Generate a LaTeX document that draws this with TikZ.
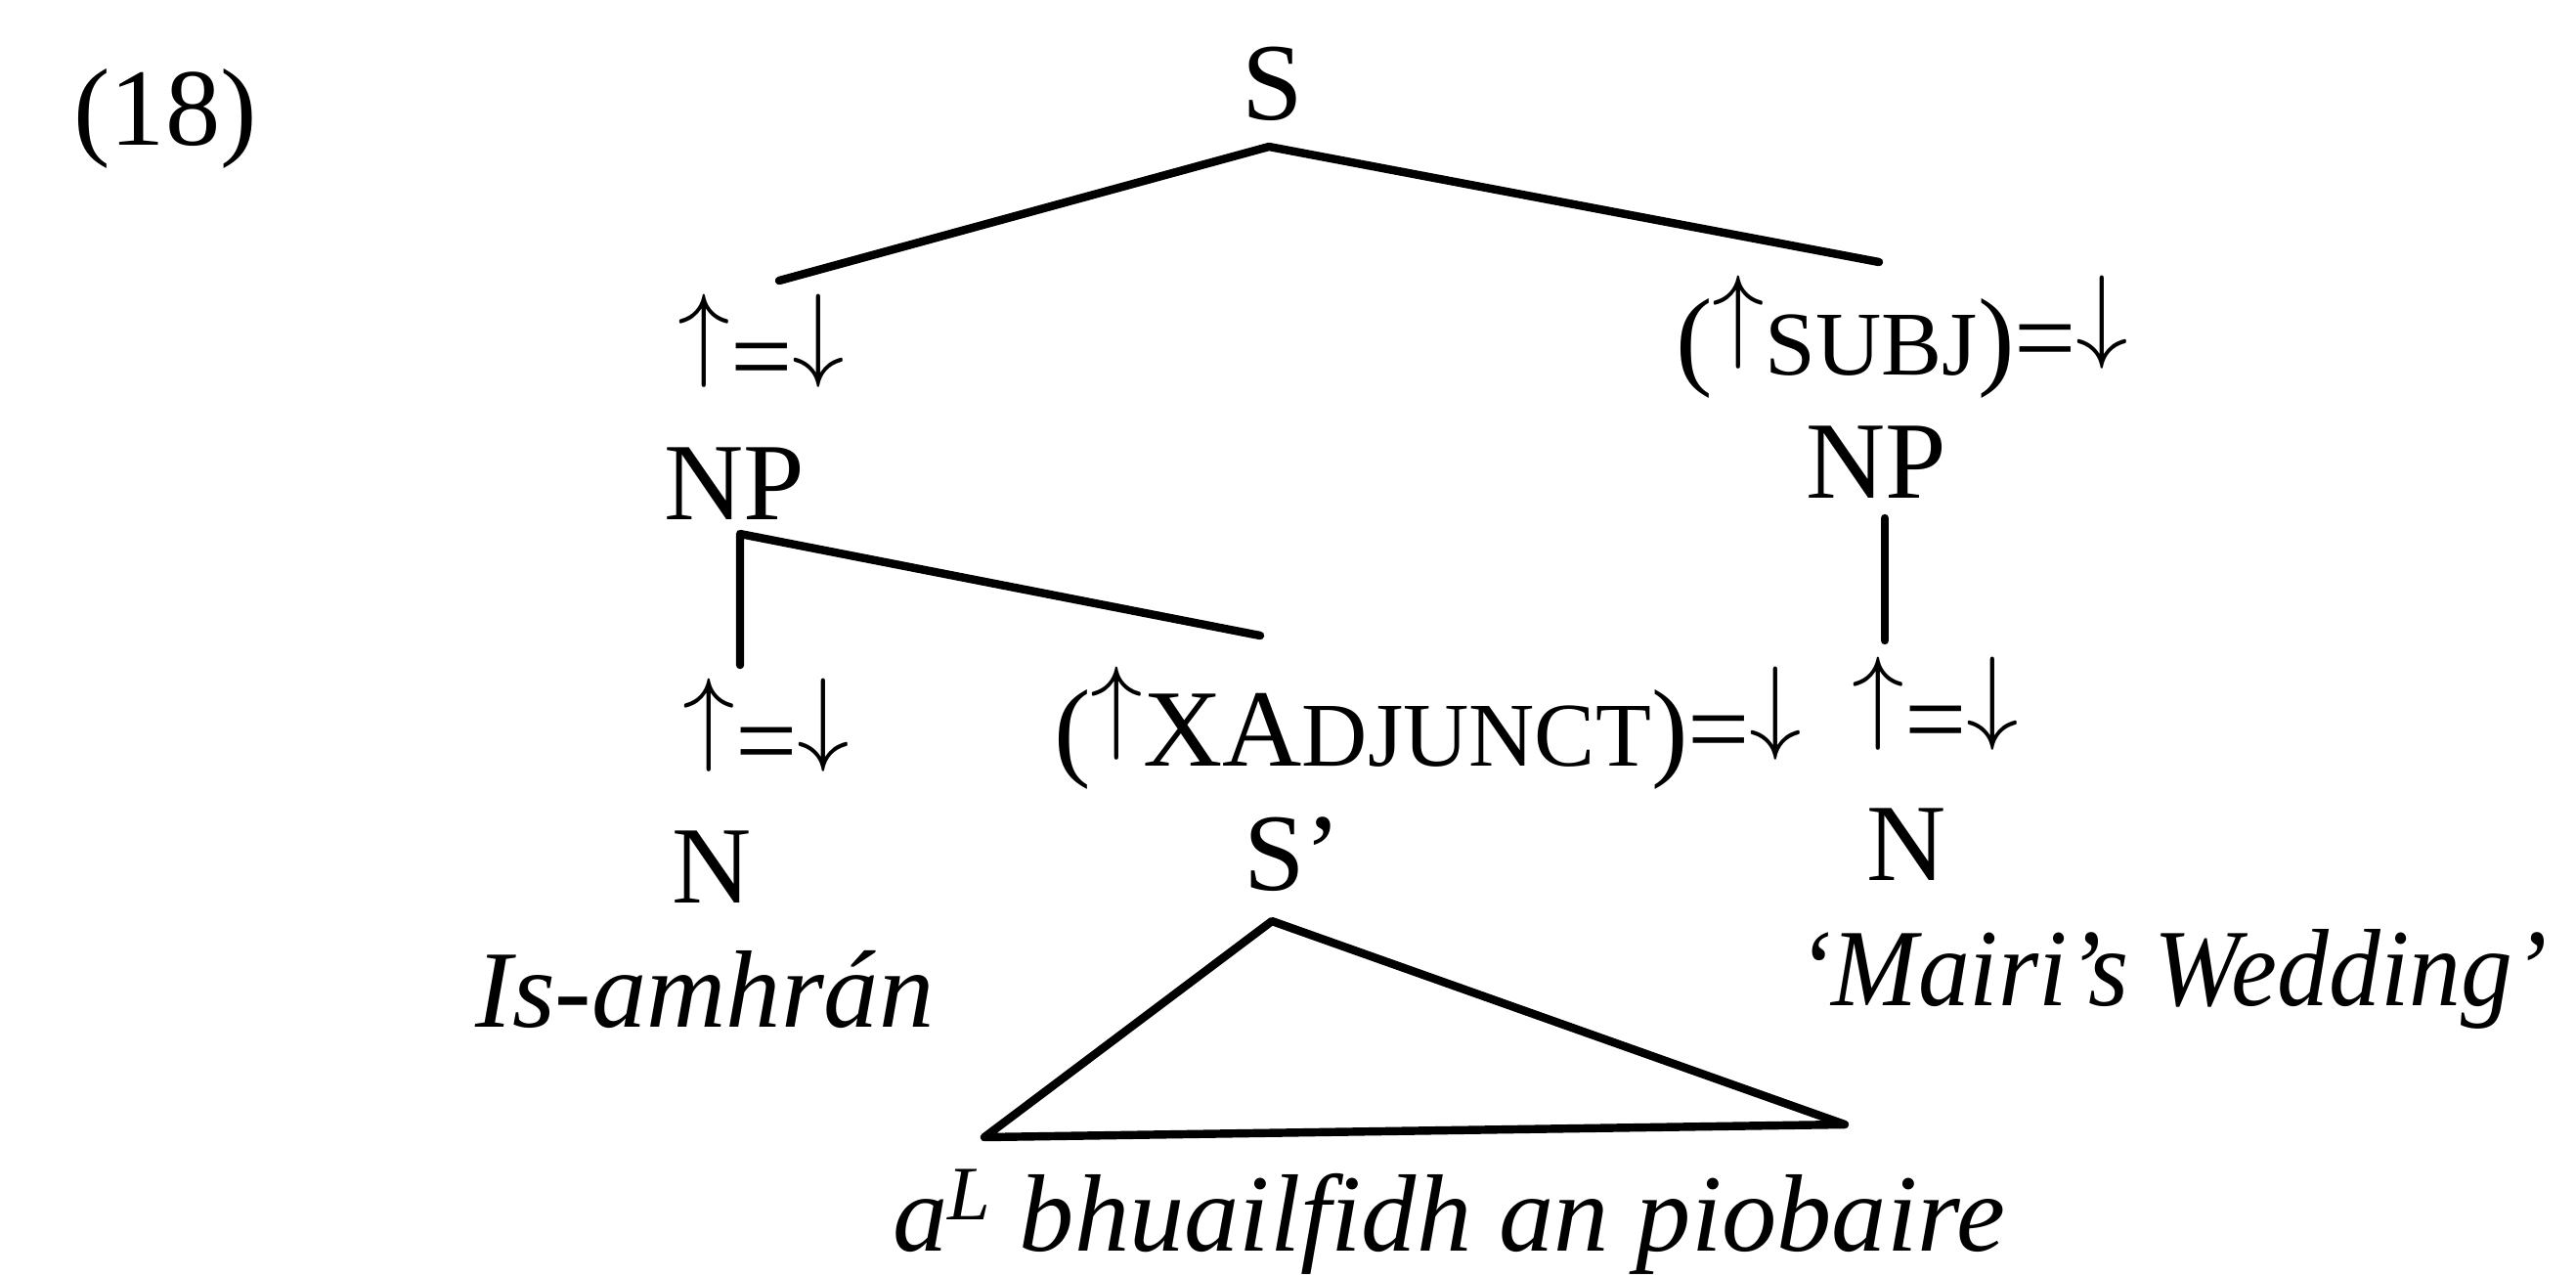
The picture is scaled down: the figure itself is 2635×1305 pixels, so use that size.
\documentclass[tikz,border=0pt]{standalone}
\usepackage{fontspec}
\setmainfont{Liberation Serif}
\usepackage{graphicx}
\newcommand\myup{\resizebox*{!}{0.9em}{\raisebox{0.194em}{$\uparrow$}}}
\newcommand\mydown{\resizebox*{!}{0.9em}{\raisebox{0.194em}{$\downarrow$}}}
\newcommand\mysc[1]{{\fontsize{26.5pt}{30pt}\selectfont #1}}
\begin{document}
\begin{tikzpicture}[x=0.1mm, y=-0.1mm,
  font=\fontsize{32pt}{38pt}\selectfont,
  lbl/.style={inner sep=0pt, outer sep=0pt, anchor=base},
  edge/.style={line width=2.4pt, line cap=round, line join=round}]
\useasboundingbox (0,0) rectangle (2635,1305);
% labels
\node[lbl] (ex)  at (169,148)  {(18)};
\node[lbl] (s)   at (1302,122) {S};
\node[lbl] (a1)  at (779,402)  {\myup=\mydown};
\node[lbl] (a2)  at (1946,383) {(\myup\mysc{SUBJ})=\mydown};
\node[lbl] (np1) at (751,531)  {NP};
\node[lbl] (np2) at (1919,509) {NP};
\node[lbl] (b1)  at (784,795)  {\myup=\mydown};
\node[lbl] (b2)  at (1461,783) {(\myup XA\mysc{DJUNCT})=\mydown};
\node[lbl] (b3)  at (1980,773) {\myup=\mydown};
\node[lbl] (n1)  at (728,923)  {N};
\node[lbl] (sp)  at (1322,910) {S’};
\node[lbl] (n2)  at (1950,900) {N};
\node[lbl] (w1)  at (721,1050) {\itshape Is-amhrán};
\node[lbl] (w2)  at (2222,1028) {\scalebox{0.94}[1]{\itshape ‘Mairi’s Wedding’}};
\node[lbl] (w3)  at (1482,1279) {\itshape a\textsuperscript{L} bhuailfidh an piobaire};
% connector end points
\coordinate (sApex) at (1298,150);
\coordinate (sL) at (797,287);
\coordinate (sR) at (1922,268);
\coordinate (np1Top) at (757,546);
\coordinate (np1V) at (757,680);
\coordinate (np1D) at (1289,650);
\coordinate (np2Top) at (1928,530);
\coordinate (np2V) at (1928,655);
\coordinate (triTop) at (1301,942);
\coordinate (triL) at (1007,1163);
\coordinate (triR) at (1887,1150);
% connectors
\draw[edge] (sL) -- (sApex) -- (sR);
\draw[edge] (np1V) -- (np1Top) -- (np1D);
\draw[edge] (np2Top) -- (np2V);
\draw[edge] (triTop) -- (triL) -- (triR) -- cycle;
\end{tikzpicture}
\end{document}
